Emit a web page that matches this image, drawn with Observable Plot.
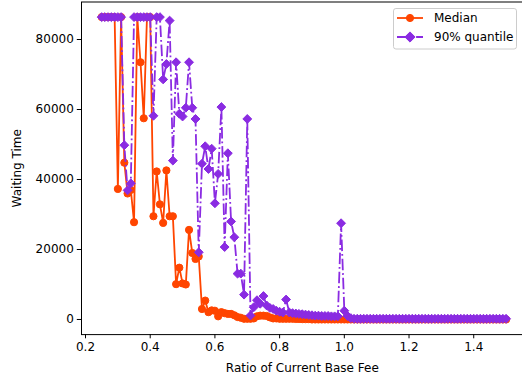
<!DOCTYPE html>
<html>
<head>
<meta charset="utf-8">
<script src="https://cdn.jsdelivr.net/npm/d3@7"></script>
<script src="https://cdn.jsdelivr.net/npm/@observablehq/plot@0.6"></script>
<style>
  html, body { margin: 0; padding: 0; background: #fff; overflow: hidden; }
  #wrap { position: relative; width: 522px; height: 376px; }
  #legend { position: absolute; left: 0; top: 0; pointer-events: none; }
</style>
</head>
<body>
<div id="wrap"></div>
<script>
// Ratio of current base fee (x)
const ratio = [0.25,0.26,0.27,0.28,0.29,0.30,0.31,0.32,0.33,0.34,0.35,0.36,0.37,0.38,0.39,0.40,0.41,0.42,0.43,0.44,0.45,0.46,0.47,0.48,0.49,0.50,0.51,0.52,0.53,0.54,0.55,0.56,0.57,0.58,0.59,0.60,0.61,0.62,0.63,0.64,0.65,0.66,0.67,0.68,0.69,0.70,0.71,0.72,0.73,0.74,0.75,0.76,0.77,0.78,0.79,0.80,0.81,0.82,0.83,0.84,0.85,0.86,0.87,0.88,0.89,0.90,0.91,0.92,0.93,0.94,0.95,0.96,0.97,0.98,0.99,1.00,1.01,1.02,1.03,1.04,1.05,1.06,1.07,1.08,1.09,1.10,1.11,1.12,1.13,1.14,1.15,1.16,1.17,1.18,1.19,1.20,1.21,1.22,1.23,1.24,1.25,1.26,1.27,1.28,1.29,1.30,1.31,1.32,1.33,1.34,1.35,1.36,1.37,1.38,1.39,1.40,1.41,1.42,1.43,1.44,1.45,1.46,1.47,1.48,1.49,1.50];

// Median waiting time
const median = [86400,86400,86400,86400,86400,37300,86400,44800,36000,37000,
  27800,86400,73500,57500,86400,86400,29500,42300,32900,27600,
  42600,29500,29500,10100,14800,10300,10000,25600,19000,17300,
  18000,3000,5400,2100,2600,2500,900,2100,1800,1600,
  1600,1200,700,500,200,200,200,300,900,1100,
  1100,1000,600,300,300,200,200,200,200,200,
  150,150,100,100,100,
  0,0,0,0,0,0,0,0,0,0,0,0,0,0,0,0,0,0,0,0,
  0,0,0,0,0,0,0,0,0,0,0,0,0,0,0,0,0,0,0,0,
  0,0,0,0,0,0,0,0,0,0,0,0,0,0,0,0,0,0,0,0,0];

// 90% quantile waiting time
const q90 = [86400,86400,86400,86400,86400,86400,86400,49800,36900,38900,
  86400,86400,86400,86400,86400,86400,58200,86400,86400,68600,
  73000,85400,45400,73500,58800,58000,60500,73500,60500,57300,
  19200,44500,49500,43000,48800,33200,41600,60700,20700,47500,
  28000,23500,13100,13100,7100,57300,1140,3500,5500,4500,
  6700,4000,3300,3000,2500,2200,2000,5700,2000,1800,
  1700,1600,1500,1400,1300,1200,1100,1100,1000,1000,
  1000,900,900,900,27500,2500,1000,400,
  200,200,200,200,200,200,200,200,200,200,200,200,200,200,200,200,
  200,200,200,200,200,200,200,200,200,200,200,200,200,200,200,200,
  200,200,200,200,200,200,200,200,200,200,200,200,200,200,200,200];

const xTicks = [0.2, 0.4, 0.6, 0.8, 1.0, 1.2, 1.4];
const yTicks = [0, 20000, 40000, 60000, 80000];

const seriesNames = ["Median", "90% quantile"];
const seriesColors = ["#FF4500", "#8A2BE2"];

const data = ratio.map((x, i) => ({x, median: median[i], q90: q90[i]}));

const chart = Plot.plot({
  width: 522,
  height: 376,
  marginLeft: 81,
  marginRight: -0.6,
  marginTop: 1.5,
  marginBottom: 41.9,
  x: {domain: [0.1876, 1.5526]},
  y: {domain: [-4320, 90720]},
  style: {fontFamily: "DejaVu Sans", fontSize: "12px", background: "white", overflow: "hidden", color: "#000"},
  marks: [
    Plot.line(data, {x: "x", y: "median", stroke: seriesColors[0], strokeWidth: 1.8}),
    Plot.dot(data, {x: "x", y: "median", fill: seriesColors[0], stroke: seriesColors[0], strokeWidth: 1, r: 3.6}),
    Plot.line(data, {x: "x", y: "q90", stroke: seriesColors[1], strokeWidth: 1.8, strokeDasharray: "11.5,2.9,1.8,2.9", strokeLinecap: "butt"}),
    Plot.dot(data, {x: "x", y: "q90", symbol: "diamond2", fill: seriesColors[1], stroke: seriesColors[1], strokeWidth: 1, r: 4.0}),
    Plot.frame({stroke: "black", strokeWidth: 1}),
    Plot.axisX({ticks: xTicks, tickSize: 4.2, tickPadding: 3.5, tickFormat: d3.format(".1f"),
      label: "Ratio of Current Base Fee", labelAnchor: "center", labelArrow: "none", labelOffset: 37, fill: "#000"}),
    Plot.axisY({ticks: yTicks, tickSize: 4.2, tickPadding: 3.5, tickFormat: d => String(d),
      label: "Waiting Time", labelAnchor: "center", labelArrow: "none", labelOffset: 69, fill: "#000"})
  ]
});

const wrap = document.getElementById("wrap");
wrap.appendChild(chart);

// Legend (overlay)
const ns = "http://www.w3.org/2000/svg";
const leg = document.createElementNS(ns, "svg");
leg.setAttribute("id", "legend");
leg.setAttribute("width", 522);
leg.setAttribute("height", 376);
leg.style.fontFamily = "DejaVu Sans";
leg.style.fontSize = "12px";
function el(tag, attrs, parent) {
  const e = document.createElementNS(ns, tag);
  for (const k in attrs) e.setAttribute(k, attrs[k]);
  (parent || leg).appendChild(e);
  return e;
}
el("rect", {x: 393.5, y: 8.5, width: 123, height: 40.5, rx: 2.4, fill: "white", "fill-opacity": 0.8, stroke: "#cccccc", "stroke-width": 1});
const rows = [18, 37];
seriesNames.forEach((name, i) => {
  const y = rows[i];
  const line = el("line", {x1: 397, x2: 423, y1: y, y2: y, stroke: seriesColors[i], "stroke-width": 1.8});
  if (i === 1) line.setAttribute("stroke-dasharray", "11.5,2.9,1.8,2.9");
  if (i === 0) {
    el("circle", {cx: 410, cy: y, r: 3.6, fill: seriesColors[i], stroke: seriesColors[i], "stroke-width": 1});
  } else {
    const h = 5.1;
    el("path", {d: `M410,${y - h}L${410 + h},${y}L410,${y + h}L${410 - h},${y}Z`, fill: seriesColors[i], stroke: seriesColors[i], "stroke-width": 1});
  }
  const t = el("text", {x: 434, y: y, "dominant-baseline": "central", fill: "#000"});
  t.textContent = name;
});
wrap.appendChild(leg);
</script>
</body>
</html>
